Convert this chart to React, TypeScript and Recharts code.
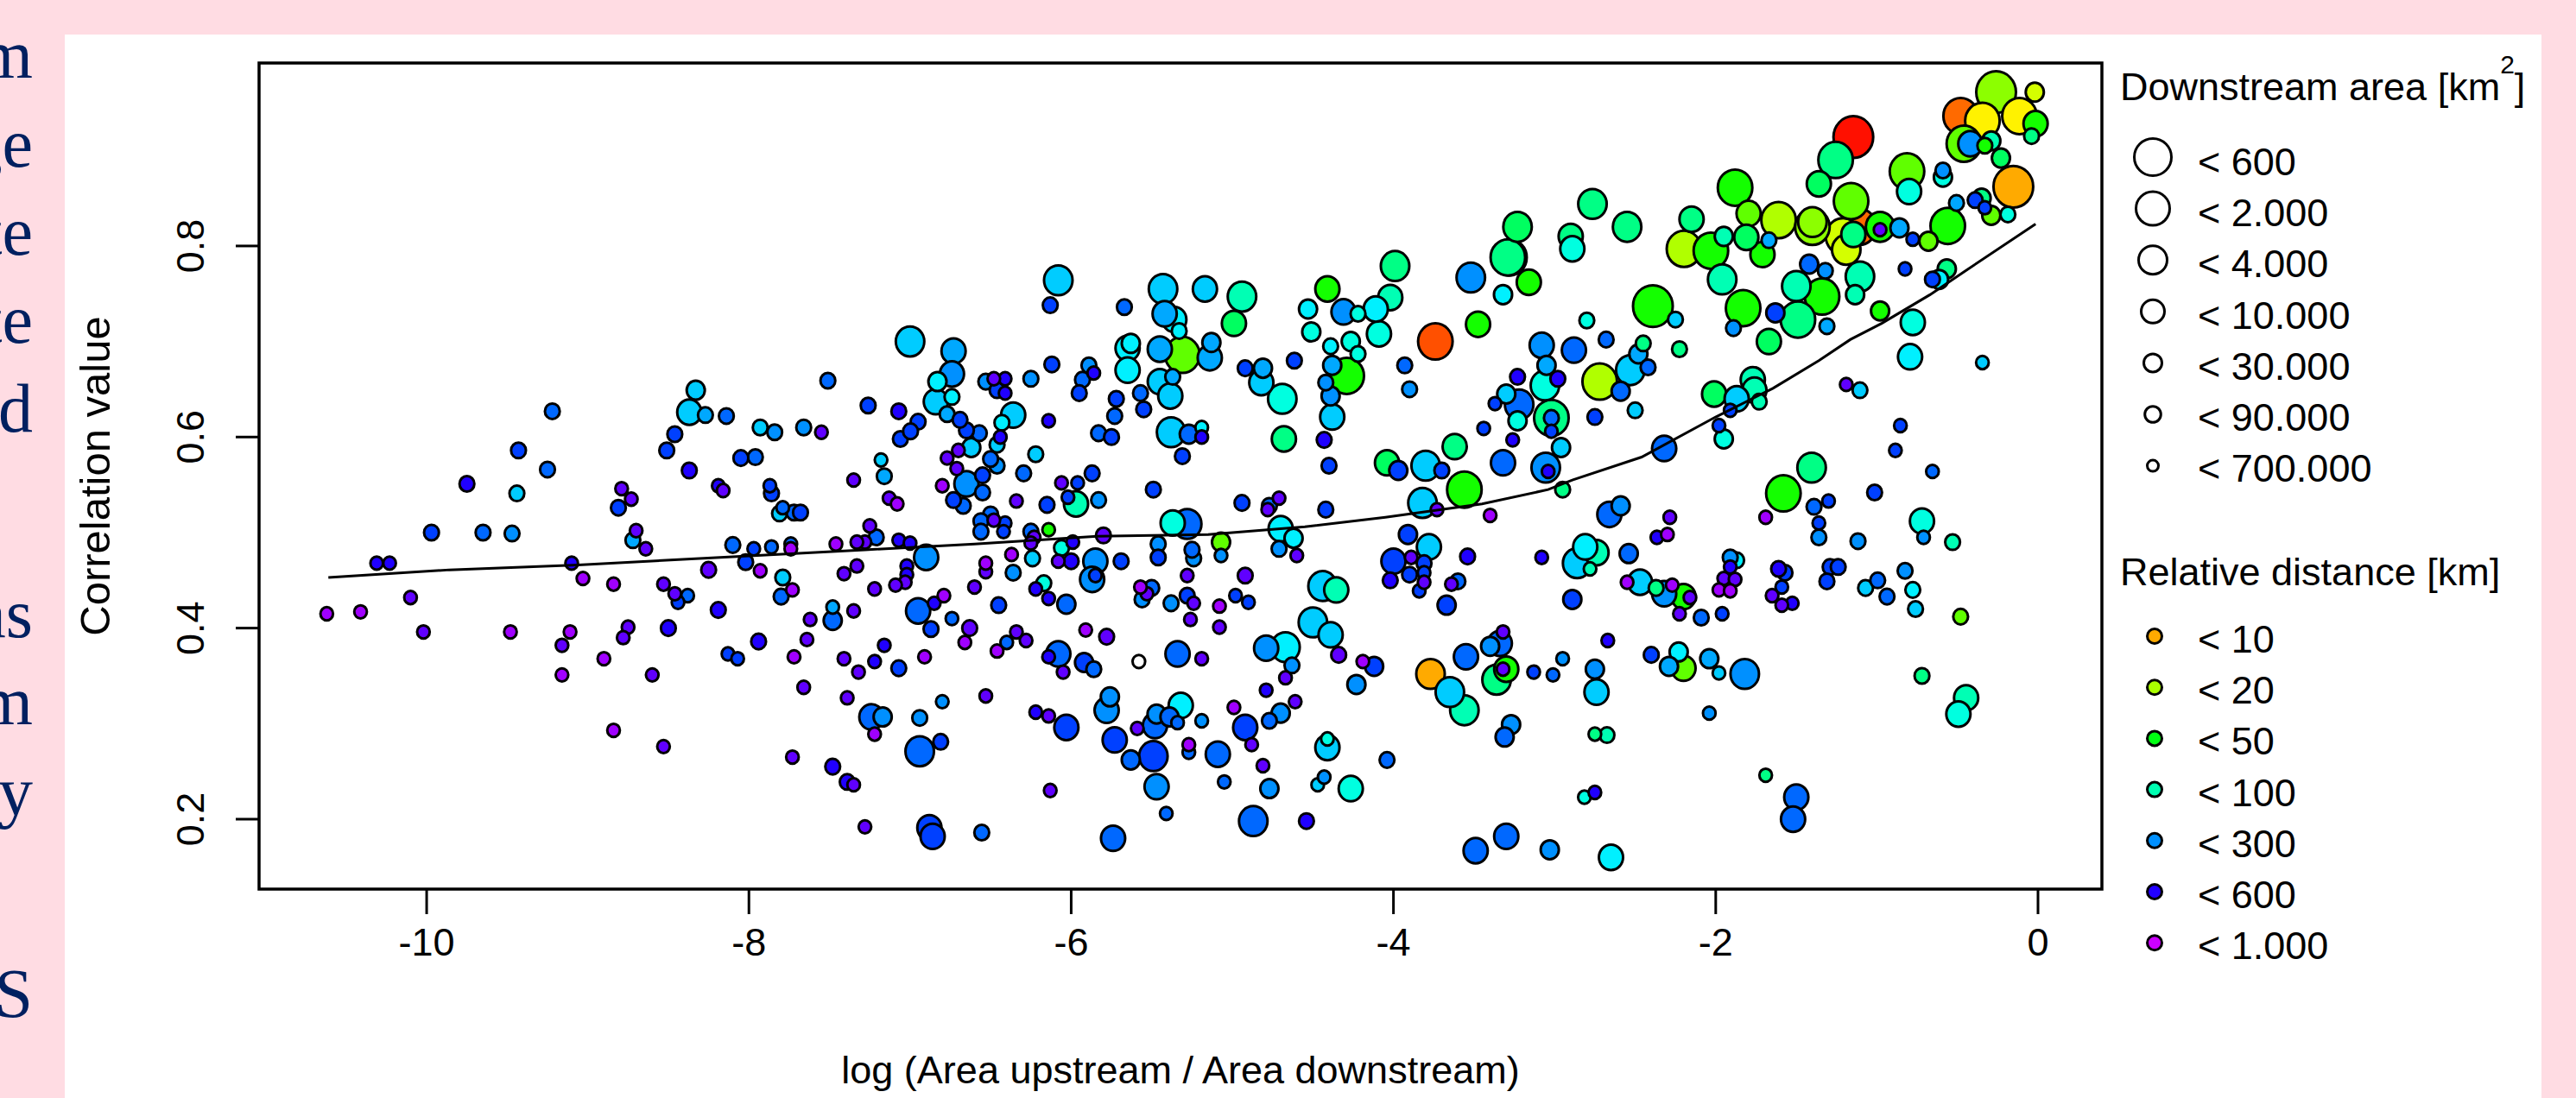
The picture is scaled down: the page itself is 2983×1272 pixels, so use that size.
import { ReferenceArea, Scatter, ScatterChart, XAxis, YAxis } from 'recharts'

const SANS = '"Liberation Sans", Arial, sans-serif'

// [log area ratio, correlation, downstream area bin]
const red = [[-1.146, .914, 0]]
const orangeRed = [[-3.74, .7, 1]]
const deepOrange = [[-.48, .936, 1], [-1.11, .82, 1]]
const amber = [[-.153, .862, 0], [-3.77, .352, 2]]
const yellow = [[-.345, .931, 1], [-.115, .936, 1]]
const yellowLime = [[-.02, .961, 4], [-1.19, .796, 2], [-1.21, .81, 1]]
const chartreuse = [[-1.61, .827, 1], [-2.197, .797, 1], [-2.72, .658, 1]]
const limeYellow = [[-.26, .961, 0], [-1.4, .82, 1], [-1.4, .825, 2]]
const lime = [[-.46, .907, 1], [-.813, .878, 1], [-1.16, .847, 1], [-.29, .832, 4], [-.68, .805, 4], [-1.796, .834, 3], [-5.31, .686, 1], [-2.2, .358, 3], [-.48, .412, 5], [-5.07, .49, 4]]
const green = [[-.56, .821, 1], [-1.88, .861, 1], [-2.03, .795, 1], [-2.39, .737, 0], [-1.58, .541, 1], [-.015, .928, 3], [-.33, .905, 5], [-.98, .82, 2], [-1.83, .735, 1], [-1.71, .791, 3], [-1.34, .747, 1], [-.98, .732, 4], [-3.16, .762, 3], [-3.28, .788, 1], [-2.2, .433, 3], [-4.41, .755, 3], [-4.29, .664, 1], [-3.475, .718, 3], [-3.56, .545, 1], [-3.3, .357, 3], [-6.14, .503, 6]]
const greenSpring = [[-.23, .892, 4], [-1.36, .865, 3], [-1.81, .809, 3], [-1.67, .7, 3], [-2.01, .645, 3], [-4.99, .719, 3], [-3.23, .82, 2], [-4.04, .573, 3]]
const spring = [[-1.256, .89, 1], [-.35, .85, 4], [-.04, .915, 5], [-2.15, .828, 3], [-1.146, .812, 3], [-2.765, .844, 2], [-2.9, .81, 3], [-2.55, .82, 2], [-2.45, .698, 5], [-2.225, .692, 5], [-3.02, .62, 1], [-1.405, .568, 2], [-2.95, .545, 5], [-.72, .35, 5], [-2.75, .289, 6], [-1.69, .246, 6], [-3.29, .788, 1], [-4.68, .598, 3], [-3.62, .59, 3], [-3.36, .346, 2], [-3.99, .779, 2], [-1.49, .723, 1], [-2.37, .442, 5], [-.566, .776, 4]]
const mint = [[-1.96, .765, 2], [-1.5, .758, 2], [-1.105, .768, 2], [-1.135, .749, 4], [-2.74, .479, 3], [-2.78, .462, 6], [-.53, .49, 5], [-.446, .327, 3], [-2.675, .288, 5], [-.29, .91, 4], [-1.95, .81, 4], [-4.94, .747, 2], [-5.97, .53, 3], [-3.56, .314, 2], [-4.355, .44, 3], [-4.02, .746, 3], [-1.77, .66, 3], [-1.76, .649, 3], [-1.73, .637, 5]]
const teal = [[-.8, .857, 3], [-.59, .872, 4], [-.187, .833, 5], [-2.89, .797, 3], [-.777, .72, 3], [-2.8, .722, 5], [-3.06, .654, 2], [-3.23, .617, 4], [-1.95, .598, 4], [-.72, .512, 3], [-.494, .31, 3], [-2.815, .223, 6], [-4.69, .64, 2], [-4.51, .71, 4], [-4.09, .708, 3], [-4.265, .7, 4], [-4.22, .729, 5], [-4.22, .687, 5], [-6.06, .484, 5], [-6.17, .447, 5], [-5.37, .51, 3], [-4.41, .284, 6], [-4.265, .232, 3]]
const cyan = [[-.614, .765, 4], [-.794, .684, 3], [-.777, .44, 5], [-1.87, .471, 5], [-2.81, .485, 3], [-2.23, .375, 4], [-2.65, .16, 3], [-3.32, .749, 4], [-4.53, .734, 4], [-4.11, .734, 3], [-4.39, .695, 5], [-5.36, .723, 3], [-5.33, .711, 5], [-5.63, .698, 4], [-5.65, .693, 3], [-5.65, .67, 3], [-6.74, .642, 5], [-6.83, .658, 4], [-6.43, .615, 5], [-5.19, .61, 6], [-4.7, .504, 3], [-4.62, .494, 4], [-4.67, .38, 2], [-5.32, .319, 3]]
const sky = [[-.345, .678, 6], [-2.25, .723, 5], [-2.53, .67, 2], [-2.96, .589, 4], [-2.5, .628, 5], [-1.87, .64, 3], [-1.105, .649, 5], [-2.86, .468, 2], [-1.07, .442, 5], [-.76, .42, 5], [-2.47, .448, 3], [-2.74, .333, 3], [-6.08, .764, 2], [-5.43, .755, 2], [-5.17, .755, 3], [-7, .7, 2], [-6.84, .637, 3], [-5.45, .658, 3], [-5.385, .643, 3], [-4.82, .657, 3], [-4.38, .621, 3], [-3.3, .645, 4], [-3.8, .57, 2], [-5.38, .605, 2], [-6.36, .623, 3], [-6.62, .589, 4], [-6.46, .592, 5], [-6.22, .582, 5], [-3.82, .531, 2], [-3.78, .485, 3], [-6.24, .473, 5], [-4.44, .444, 2], [-4.5, .406, 2], [-4.39, .393, 3], [-3.65, .333, 2], [-4.41, .275, 3], [-4.47, .236, 6], [-8.33, .649, 4], [-8.37, .626, 3], [-7.93, .61, 5], [-9.44, .541, 5], [-7.81, .52, 5], [-7.79, .453, 5], [-1.98, .353, 6], [-7.18, .576, 6]]
const azureLight = [[-1.67, .806, 5], [-1.31, .716, 5], [-.86, .819, 4], [-.506, .845, 5], [-2.48, .687, 4], [-3.05, .675, 4], [-2.04, .368, 4], [-2.29, .36, 4], [-5.42, .729, 3], [-6.73, .69, 3], [-6.77, .624, 5], [-5.45, .692, 3], [-5.13, .699, 4], [-5.14, .683, 3], [-4.81, .672, 4], [-4.38, .675, 4], [-7.16, .559, 5], [-7.48, .422, 6], [-8.72, .492, 5], [-8.27, .623, 5], [-5.37, .663, 5]]
const azure = [[-.42, .907, 3], [-.59, .879, 5], [-1.32, .774, 5], [-1.36, .495, 5], [-3.08, .696, 3], [-3.055, .568, 2], [-2.59, .528, 4], [-1.117, .491, 5], [-1.91, .474, 5], [-2.32, .436, 3], [-.825, .46, 5], [-1.82, .352, 2], [-2.75, .357, 4], [-2.95, .368, 6], [-2.04, .311, 6], [-.71, .495, 6], [-3.03, .168, 4], [-1.89, .714, 5], [-6.74, .666, 3], [-6.53, .658, 5], [-6.25, .661, 5], [-5.89, .675, 5], [-4.31, .731, 3], [-3.52, .767, 2], [-4.42, .657, 5], [-4.39, .643, 4], [-3.9, .65, 5], [-6.65, .551, 3], [-6.46, .57, 5], [-5.83, .534, 5], [-5.46, .488, 5], [-5.24, .473, 5], [-5.07, .476, 6], [-4.71, .483, 5], [-6.9, .474, 3], [-6.36, .458, 5], [-5.85, .47, 3], [-5.87, .451, 3], [-5.38, .426, 5], [-5.56, .43, 5], [-4.79, .379, 3], [-4.63, .361, 5], [-4.23, .341, 4], [-3.4, .381, 4], [-3.27, .299, 4], [-4.43, .244, 6], [-4.77, .232, 4], [-5.47, .234, 3], [-7.17, .307, 4], [-6.94, .306, 5], [-6.8, .323, 6], [-5.76, .328, 4], [-5.78, .314, 3], [-5.47, .31, 4], [-5.19, .303, 6], [-4.7, .311, 4], [-7.84, .605, 5], [-7.66, .61, 5], [-9.47, .499, 5]]
const azureBlue = [[-1.42, .781, 4], [-2.88, .691, 3], [-2.68, .702, 5], [-2.42, .673, 5], [-2.59, .648, 4], [-3.22, .634, 2], [-3.02, .62, 5], [-2.32, .588, 3], [-.655, .564, 6], [-1.39, .527, 5], [-2.54, .478, 4], [-3.01, .351, 6], [-2.66, .519, 3], [-2.09, .411, 5], [-.995, .45, 5], [-.937, .433, 5], [-1.5, .223, 3], [-1.52, .2, 3], [-5.67, .736, 5], [-5.93, .66, 5], [-5.57, .646, 5], [-5.73, .622, 5], [-3.93, .675, 5], [-3.32, .573, 3], [-5.27, .603, 4], [-5.83, .604, 5], [-6.57, .604, 5], [-6.5, .577, 5], [-6.295, .562, 5], [-6.67, .528, 5], [-6.55, .542, 5], [-4.77, .528, 5], [-7.21, .495, 5], [-6.5, .519, 5], [-6.56, .512, 5], [-6.56, .501, 5], [-6.25, .501, 5], [-5.28, .509, 2], [-5.25, .482, 5], [-6.03, .425, 4], [-5.5, .442, 5], [-3.6, .449, 5], [-6.95, .418, 3], [-6.74, .41, 6], [-6.4, .385, 6], [-6.08, .373, 3], [-5.86, .357, 5], [-5.34, .373, 3], [-3.55, .37, 3], [-3.34, .384, 3], [-3.31, .286, 4], [-4.04, .262, 5], [-5.05, .239, 6], [-5.41, .206, 6], [-4.87, .198, 2], [-5.74, .18, 3], [-6.555, .186, 5], [-3.49, .167, 3], [-3.3, .182, 3], [-7.24, .307, 3], [-6.94, .271, 2], [-5.48, .298, 3], [-5.39, .307, 4], [-5.34, .301, 6], [-5.63, .262, 4], [-5.27, .27, 6], [-5.09, .268, 3], [-4.77, .303, 5], [-8.14, .622, 5], [-7.51, .659, 5], [-9.22, .627, 5], [-9.25, .566, 5], [-7.96, .579, 5], [-7.79, .526, 6], [-7.72, .521, 5], [-9.65, .5, 5], [-8.1, .487, 5], [-7.86, .485, 6], [-7.74, .488, 6], [-8.38, .434, 6], [-7.8, .433, 5], [-7.48, .408, 4]]
const blue = [[-.39, .848, 5], [-.33, .84, 6], [-.777, .807, 6], [-1.63, .73, 4], [-.825, .776, 6], [-1.014, .542, 5], [-2.89, .43, 4], [-2.75, .621, 5], [-1.29, .464, 5], [-1.24, .464, 5], [-1.57, .458, 5], [-6.95, .616, 5], [-6.12, .676, 5], [-5.55, .629, 5], [-4.615, .68, 5], [-6.46, .649, 5], [-5.31, .58, 5], [-6.15, .529, 5], [-6.73, .534, 5], [-5.75, .6, 5], [-6.65, .607, 5], [-6.55, .56, 5], [-4.42, .524, 5], [-6.69, .618, 5], [-4.4, .57, 5], [-3.7, .565, 5], [-4, .47, 3], [-3.91, .498, 4], [-3.81, .468, 5], [-3.9, .456, 5], [-3.67, .424, 4], [-6.03, .296, 3], [-5.73, .283, 3], [-5.49, .266, 2], [-4.92, .296, 3], [-6.81, .281, 5], [-6.88, .191, 3], [-6.86, .182, 3], [-4.12, .36, 4], [-3.44, .609, 6], [-3.37, .635, 6], [-5.92, .364, 4], [-7.07, .358, 5], [-5.69, .47, 5], [-5.46, .474, 5], [-6.45, .424, 5], [-6.87, .399, 5], [-5.28, .434, 5], [-6.02, .537, 6], [-5.96, .552, 6], [-4.98, .434, 6], [-4.9, .427, 6], [-5.87, .562, 5], [-5.49, .545, 5], [-4.94, .531, 5], [-5.95, .646, 5], [-5.72, .64, 5], [-7.26, .633, 5], [-7.06, .598, 5], [-6.997, .606, 5], [-6.13, .738, 5], [-4.92, .672, 5], [-5.85, .455, 6], [-6.41, .51, 6], [-6.42, .501, 6], [-3.81, .458, 6], [-3.84, .439, 6], [-8.46, .603, 5], [-8.51, .586, 5], [-8.05, .578, 5], [-9.43, .586, 5], [-8.81, .526, 5], [-7.87, .549, 6], [-7.86, .541, 5], [-7.68, .521, 5], [-9.97, .5, 5], [-7.97, .483, 6], [-8.02, .469, 5], [-8.44, .427, 6], [-8.13, .373, 6], [-8.07, .368, 6], [-2.4, .372, 5], [-3.13, .354, 6], [-1.96, .415, 6], [-1.31, .449, 5], [-1.59, .443, 6], [-.854, .612, 6], [-.885, .586, 6], [-1.91, .628, 6], [-.655, .765, 5], [-3.02, .606, 6], [-1.3, .533, 6], [-1.98, .612, 6], [-1.36, .51, 6], [-3.97, .565, 4]]
const indigo = [[-3.23, .663, 5], [-2.98, .661, 5], [-3.26, .597, 6], [-3.08, .474, 6], [-3.04, .564, 6], [-2.365, .495, 6], [-1.91, .464, 6], [-1.61, .462, 5], [-1.525, .426, 6], [-2.67, .387, 6], [-2.75, .228, 6], [-7.07, .627, 5], [-6.41, .661, 6], [-6.41, .646, 6], [-5.86, .667, 6], [-6.14, .617, 6], [-5.19, .6, 6], [-6.44, .6, 6], [-4.43, .597, 5], [-3.54, .475, 5], [-4.02, .45, 5], [-7.07, .492, 6], [-7, .489, 6], [-5.99, .49, 6], [-6, .47, 5], [-7.02, .465, 6], [-7.02, .456, 6], [-6.22, .441, 6], [-6.14, .431, 6], [-6.85, .426, 6], [-7.16, .382, 6], [-7.22, .365, 6], [-6.14, .37, 6], [-6.22, .312, 6], [-4.79, .335, 6], [-4.54, .198, 5], [-9.75, .551, 5], [-8.37, .565, 5], [-8.19, .549, 6], [-10.31, .468, 6], [-10.23, .468, 6], [-9.1, .468, 6], [-8.19, .419, 5], [-8.5, .4, 5], [-7.94, .386, 5], [-7.48, .255, 5], [-7.39, .239, 5]]
const violet = [[-.98, .817, 6], [-1.19, .655, 6], [-1.95, .452, 6], [-1.88, .451, 6], [-2.285, .516, 6], [-1.65, .434, 6], [-1.59, .424, 6], [-2.16, .432, 6], [-2.225, .415, 6], [-3.89, .474, 6], [-3.81, .448, 6], [-3.64, .446, 6], [-6.48, .661, 6], [-6.7, .586, 6], [-6.77, .578, 6], [-6.71, .567, 6], [-6.06, .552, 6], [-6.34, .533, 6], [-4.71, .536, 6], [-4.78, .524, 6], [-7.13, .536, 6], [-7.25, .507, 6], [-7.28, .49, 6], [-6.48, .513, 6], [-6.23, .495, 6], [-6.25, .489, 6], [-5.8, .497, 5], [-4.6, .476, 6], [-7.22, .441, 6], [-7.03, .448, 6], [-7.09, .445, 6], [-6.6, .443, 6], [-6.53, .459, 6], [-6.08, .47, 6], [-5.53, .436, 6], [-5.28, .455, 6], [-5.24, .426, 6], [-5.26, .409, 6], [-5.08, .401, 6], [-4.92, .455, 5], [-6.63, .4, 5], [-6.34, .396, 6], [-6.28, .387, 6], [-5.78, .391, 5], [-6.05, .354, 6], [-5.19, .368, 6], [-4.34, .372, 5], [-4.67, .348, 6], [-3.73, .524, 6], [-3.32, .396, 6], [-3.32, .357, 6], [-4.61, .323, 6], [-6.53, .329, 6], [-6.14, .308, 6], [-5.59, .295, 6], [-4.88, .278, 6], [-4.81, .256, 6], [-6.13, .23, 6], [-7.28, .192, 6], [-8.79, .546, 6], [-8.73, .535, 6], [-8.16, .544, 6], [-7.35, .555, 6], [-7.55, .605, 6], [-8.7, .502, 6], [-8.64, .483, 6], [-7.33, .49, 6], [-8.25, .461, 5], [-8.53, .446, 6], [-8.46, .436, 6], [-7.41, .457, 6], [-7.33, .465, 6], [-7.35, .418, 6], [-7.62, .409, 6], [-10.1, .432, 6], [-10.02, .396, 6], [-9.16, .382, 6], [-8.75, .401, 6], [-8.78, .39, 6], [-8.6, .351, 6], [-7.64, .388, 6], [-7.41, .368, 6], [-7.32, .354, 6], [-7.66, .338, 6], [-7.39, .327, 6], [-8.53, .276, 6], [-7.73, .265, 6], [-7.35, .236, 6]]
const purple = [[-2.3, .498, 6], [-1.69, .516, 6], [-1.98, .44, 6], [-1.91, .439, 6], [-2.55, .448, 6], [-2.27, .445, 6], [-7.08, .53, 6], [-6.8, .549, 6], [-6.79, .434, 6], [-6.53, .468, 6], [-6.37, .477, 6], [-5.57, .443, 6], [-5.08, .423, 6], [-6.66, .385, 6], [-6.46, .376, 6], [-6.91, .37, 6], [-5.91, .398, 6], [-4.19, .365, 6], [-4.99, .317, 6], [-7.22, .289, 6], [-5.27, .278, 6], [-3.4, .518, 6], [-7.46, .488, 6], [-7.74, .483, 6], [-9.03, .452, 6], [-8.84, .446, 6], [-7.93, .46, 6], [-7.73, .44, 6], [-10.62, .415, 6], [-10.41, .417, 6], [-9.48, .396, 6], [-9.11, .396, 6], [-8.9, .368, 6], [-9.16, .351, 6], [-7.72, .37, 6], [-8.84, .293, 6]]
const unfilled = [[-5.58, .365, 6]]

const fitted = [[-10.61, .453], [-9.86, .461], [-9.06, .466], [-8.41, .472], [-7.28, .482], [-6.6, .488], [-5.86, .496], [-5.15, .498], [-4.55, .506], [-4.05, .516], [-3.45, .53], [-3.04, .545], [-2.89, .555], [-2.46, .579], [-2, .621], [-1.645, .651], [-1.36, .68], [-1.165, .702], [-.97, .719], [-.67, .749], [-.45, .774], [-.015, .823]]

const xTicks = [-10, -8, -6, -4, -2, 0]
const yTicks = [0.2, 0.4, 0.6, 0.8]

const areaLabels = ['< 600', '< 2.000', '< 4.000', '< 10.000', '< 30.000', '< 90.000', '< 700.000']
const distanceLabels = ['< 10', '< 20', '< 50', '< 100', '< 300', '< 600', '< 1.000']
const distanceColors = ['#FFAA00', '#AAFF00', '#00FF12', '#00FFB2', '#0090FF', '#2200FF', '#CC00FF']
const sideWords = ['m', 'ge', 'te', 'te', 'd', 'as', 'm', 'y', 'S']

const pointRadius = [23, 20, 16.5, 14, 10.5, 8.6, 7.3]
const legendRadius = [21.5, 19.5, 16.5, 13.5, 10.5, 9.3, 6.5]

const groups: [number[][], string][] = [
  [red, '#FF1000'], [orangeRed, '#FF5000'], [deepOrange, '#FF6A00'], [amber, '#FFAA00'],
  [yellow, '#FFF200'], [yellowLime, '#D4FF00'], [chartreuse, '#B0FF00'], [limeYellow, '#8CFF00'],
  [lime, '#60FF00'], [green, '#14FF00'], [greenSpring, '#00FF60'], [spring, '#00FF85'],
  [mint, '#00FFB4'], [teal, '#00FFE0'], [cyan, '#00F0FF'], [sky, '#00CCFF'],
  [azureLight, '#00A8FF'], [azure, '#0090FF'], [azureBlue, '#0068FF'], [blue, '#0040FF'],
  [indigo, '#2000FF'], [violet, '#6000FF'], [purple, '#A000FF'], [unfilled, '#FFFFFF'],
]

// big circles first so the small ones stay visible, like the original plot
const points = groups
  .flatMap(([rows, fill]) => rows.map(([x, y, bin]) => ({ x, y, bin, fill })))
  .sort((a, b) => a.bin - b.bin)

const curve = fitted.map(([x, y]) => ({ x, y }))

function Dot({ cx, cy, payload }: any) {
  const r = pointRadius[payload.bin]
  return <ellipse cx={cx} cy={cy} rx={r} ry={r * 1.05} fill={payload.fill} stroke="#000" strokeWidth={3} />
}

function XTick({ x, y, payload }: any) {
  return (
    <text x={x} y={y + 46} textAnchor="middle" fontSize={45} fontFamily={SANS} fill="#000">
      {payload.value}
    </text>
  )
}

function YTick({ x, y, payload }: any) {
  return (
    <text x={x - 35} y={y} transform={`rotate(-90 ${x - 35} ${y})`} textAnchor="middle" fontSize={45} fontFamily={SANS} fill="#000">
      {payload.value.toFixed(1)}
    </text>
  )
}

function Legends() {
  return (
    <svg width={2983} height={1272} style={{ position: 'absolute', left: 0, top: 0 }} fontFamily={SANS} fontSize={45} fill="#000">
      <text x={2455} y={116}>
        Downstream area [km<tspan dy={-31} fontSize={30}>2</tspan><tspan dy={31}>]</tspan>
      </text>
      {areaLabels.map((label, i) => (
        <g key={label}>
          <circle cx={2493} cy={182 + i * 59.6} r={legendRadius[i]} fill="none" stroke="#000" strokeWidth={3} />
          <text x={2545} y={203 + i * 59.2}>{label}</text>
        </g>
      ))}
      <text x={2455} y={678}>Relative distance [km]</text>
      {distanceLabels.map((label, i) => (
        <g key={label}>
          <circle cx={2495} cy={737 + i * 59.2} r={8.5} fill={distanceColors[i]} stroke="#000" strokeWidth={3} />
          <text x={2545} y={756 + i * 59.2}>{label}</text>
        </g>
      ))}
    </svg>
  )
}

export default function App() {
  return (
    <div style={{ position: 'absolute', left: 0, top: 0, width: 2983, height: 1272, overflow: 'hidden', background: '#FFDCE3' }}>
      <div style={{ position: 'absolute', left: 75, top: 40, width: 2868, height: 1232, background: '#fff' }} />
      <svg width={75} height={1272} style={{ position: 'absolute', left: 0, top: 0 }}>
        {sideWords.map((word, i) => (
          <text key={i} x={38} y={[90, 193, 295, 397, 500, 738, 839, 944, 1178][i]} textAnchor="end" fontFamily='"Liberation Serif", serif' fontSize={80} fill="#002060">
            {word}
          </text>
        ))}
      </svg>
      <div style={{ position: 'absolute', left: 0, top: 0 }}>
        <ScatterChart width={2983} height={1272} margin={{ top: 73, right: 549, bottom: 0, left: 0 }}>
          <XAxis
            type="number"
            dataKey="x"
            domain={[-11.04, 0.3966]}
            ticks={xTicks}
            height={242}
            axisLine={false}
            tickSize={29}
            tickLine={{ stroke: '#000', strokeWidth: 3 }}
            tick={<XTick />}
            interval={0}
            label={{ value: 'log (Area upstream / Area downstream)', position: 'insideBottom', offset: 17, fontSize: 45, fontFamily: SANS, fill: '#000' }}
          />
          <YAxis
            type="number"
            dataKey="y"
            domain={[0.1268, 0.9915]}
            ticks={yTicks}
            width={300}
            axisLine={false}
            tickSize={27}
            tickLine={{ stroke: '#000', strokeWidth: 3 }}
            tick={<YTick />}
            interval={0}
            label={{ value: 'Correlation value', angle: -90, position: 'insideLeft', offset: 110, fontSize: 49, fontFamily: SANS, fill: '#000', style: { textAnchor: 'middle' } }}
          />
          <ReferenceArea x1={-11.04} x2={0.3966} y1={0.1268} y2={0.9915} fill="none" stroke="#000" strokeWidth={3.5} ifOverflow="visible" />
          <Scatter data={points} shape={<Dot />} isAnimationActive={false} />
          <Scatter data={curve} shape={() => null} line={{ stroke: '#000', strokeWidth: 3 }} isAnimationActive={false} />
        </ScatterChart>
      </div>
      <Legends />
    </div>
  )
}
